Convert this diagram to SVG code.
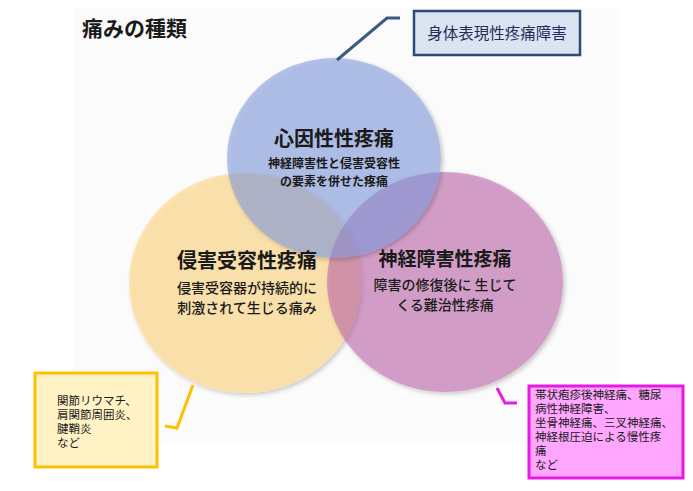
<svg xmlns="http://www.w3.org/2000/svg" width="693" height="491" viewBox="0 0 693 491">
<defs>
<filter id="sh" x="-10%" y="-10%" width="125%" height="125%">
<feGaussianBlur in="SourceAlpha" stdDeviation="2" result="b"/>
<feOffset in="b" dx="1.5" dy="2" result="o"/>
<feComposite in="o" in2="SourceAlpha" operator="out" result="oo"/>
<feColorMatrix in="oo" type="matrix" values="0 0 0 0 0  0 0 0 0 0  0 0 0 0 0  0 0 0 0.35 0" result="s"/>
<feMerge><feMergeNode in="s"/><feMergeNode in="SourceGraphic"/></feMerge>
</filter>
<style>
text{font-family:"Noto Sans CJK JP","Noto Sans CJK SC",sans-serif;fill:#1a1a1a}
.c{text-anchor:middle}
.h{font-size:19px;font-weight:bold}
.s{font-size:14px;font-weight:500}
.t{font-size:12px;font-weight:bold}
.n{font-size:11.5px}
.lead{fill:none;stroke-width:3}
</style>
</defs>
<rect x="0" y="0" width="693" height="491" fill="#ffffff"/>
<rect x="73" y="8" width="547" height="436" fill="#fbfbfb"/>
<g id="title"><text x="82" y="36" style="font-size:21px;font-weight:bold">痛みの種類</text></g>

<g id="nociceptive">
<ellipse cx="245" cy="283" rx="116" ry="110" fill="rgb(255,210,120)" fill-opacity="0.58" filter="url(#sh)"/>
</g>
<g id="neuropathic">
<ellipse cx="445" cy="282" rx="118" ry="110" fill="rgb(188,100,168)" fill-opacity="0.58" filter="url(#sh)"/>
</g>
<g id="psychogenic">
<ellipse cx="334" cy="158" rx="107" ry="100" fill="rgb(128,153,220)" fill-opacity="0.58" filter="url(#sh)"/>
</g>

<g id="psychogenic-text">
<text class="c h" x="334" y="146" style="font-size:20px">心因性性疼痛</text>
<text class="c t" x="334" y="168">神経障害性と侵害受容性</text>
<text class="c t" x="334" y="186">の要素を併せた疼痛</text>
</g>
<g id="nociceptive-text">
<text class="c h" x="247" y="268" style="font-size:20px">侵害受容性疼痛</text>
<text class="c s" x="247" y="293">侵害受容器が持続的に</text>
<text class="c s" x="247" y="313">刺激されて生じる痛み</text>
</g>
<g id="neuropathic-text">
<text class="c h" x="445" y="266">神経障害性疼痛</text>
<text class="c s" x="445" y="290">障害の修復後に 生じて</text>
<text class="c s" x="445" y="310">くる難治性疼痛</text>
</g>

<g id="connectors">
<polyline class="lead" points="337,60 387,18 400,18" stroke="#3b5a82" stroke-width="2.5"/>
<polyline class="lead" points="193,385 177,428 165,426" stroke="#ffc000"/>
<polyline class="lead" points="497,388 505,403 517,403" stroke="#e619e6"/>
</g>

<g id="box-somatic">
<rect x="414" y="11" width="166" height="44" fill="#dbe5f1" stroke="#2e4a7a" stroke-width="2.5"/>
<text x="497" y="39" class="c" style="font-size:15.5px;fill:#1f2d5c">身体表現性疼痛障害</text>
</g>
<g id="box-nociceptive">
<rect x="35" y="373" width="122" height="94" fill="#fff2c4" stroke="#ffc000" stroke-width="3"/>
<text class="n" x="57" y="405">関節リウマチ、</text>
<text class="n" x="57" y="419">肩関節周囲炎、</text>
<text class="n" x="57" y="433">腱鞘炎</text>
<text class="n" x="57" y="447">など</text>
</g>
<g id="box-neuropathic">
<rect x="529" y="386" width="154" height="92" fill="#ffa6ff" stroke="#e619e6" stroke-width="3"/>
<text class="n" x="535" y="399">帯状疱疹後神経痛、糖尿</text>
<text class="n" x="535" y="413">病性神経障害、</text>
<text class="n" x="535" y="427">坐骨神経痛、三叉神経痛、</text>
<text class="n" x="535" y="441">神経根圧迫による慢性疼</text>
<text class="n" x="535" y="455">痛</text>
<text class="n" x="535" y="469">など</text>
</g>
</svg>
